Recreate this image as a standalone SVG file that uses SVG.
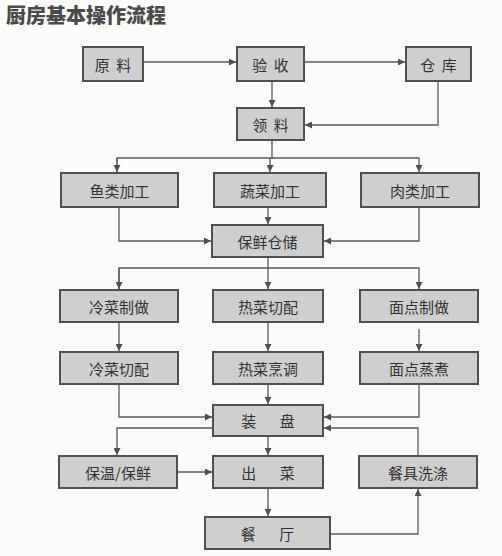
<svg xmlns="http://www.w3.org/2000/svg" width="502" height="556" viewBox="0 0 502 556">
<style>
.bg{fill:#fbfbfa}
.box{fill:#cfcfcf;stroke:#505050;stroke-width:2}
.t{font-family:"Noto Sans CJK SC","Liberation Sans",sans-serif;font-size:15px;fill:#333;text-anchor:middle;dominant-baseline:central}
.title{font-family:"Noto Sans CJK SC","Liberation Sans",sans-serif;font-size:20px;font-weight:900;fill:#4a4a4a}
.c{fill:none;stroke:#5a5a5a;stroke-width:1.3}
</style>
<defs>
<marker id="ah" viewBox="0 0 10 10" refX="10" refY="5" markerWidth="8" markerHeight="7" markerUnits="userSpaceOnUse" orient="auto">
<path d="M0,0 L10,5 L0,10 z" fill="#505050"/>
</marker>
</defs>
<rect class="bg" x="0" y="0" width="502" height="556"/>
<text class="title" x="6" y="23">厨房基本操作流程</text>
<g id="connectors">
<path class="c" d="M143,62 H236" marker-end="url(#ah)"/>
<path class="c" d="M304,62 H405" marker-end="url(#ah)"/>
<path class="c" d="M272,81 V107" marker-end="url(#ah)"/>
<path class="c" d="M438,81 V125 H305" marker-end="url(#ah)"/>
<path class="c" d="M272,140 V158"/>
<path class="c" d="M117,172 V158 H419 V172" marker-end="url(#ah)"/>
<path class="c" d="M117,158 V172" marker-end="url(#ah)"/>
<path class="c" d="M270,158 V172" marker-end="url(#ah)"/>
<path class="c" d="M268,207 V224" marker-end="url(#ah)"/>
<path class="c" d="M119,207 V241 H211" marker-end="url(#ah)"/>
<path class="c" d="M419,207 V241 H324" marker-end="url(#ah)"/>
<path class="c" d="M268,257 V268"/>
<path class="c" d="M119,289 V268 H419 V289" marker-end="url(#ah)"/>
<path class="c" d="M119,268 V289" marker-end="url(#ah)"/>
<path class="c" d="M268,268 V289" marker-end="url(#ah)"/>
<path class="c" d="M119,322 V351" marker-end="url(#ah)"/>
<path class="c" d="M268,322 V351" marker-end="url(#ah)"/>
<path class="c" d="M419,329 V351" marker-end="url(#ah)"/>
<path class="c" d="M268,384 V404" marker-end="url(#ah)"/>
<path class="c" d="M119,384 V417 H212" marker-end="url(#ah)"/>
<path class="c" d="M419,384 V417 H324" marker-end="url(#ah)"/>
<path class="c" d="M213,428 H117 V455" marker-end="url(#ah)"/>
<path class="c" d="M268,436 V455" marker-end="url(#ah)"/>
<path class="c" d="M177,472 H212" marker-end="url(#ah)"/>
<path class="c" d="M268,488 V516" marker-end="url(#ah)"/>
<path class="c" d="M330,534 H418 V489" marker-end="url(#ah)"/>
<path class="c" d="M418,456 V428 H324" marker-end="url(#ah)"/>
</g>
<g id="n-yuanliao"><rect class="box" x="83" y="47" width="60" height="34"/><text class="t" x="113" y="64" xml:space="preserve">原  料</text></g>
<g id="n-yanshou"><rect class="box" x="237" y="47" width="67" height="34"/><text class="t" x="270.5" y="64" xml:space="preserve">验  收</text></g>
<g id="n-cangku"><rect class="box" x="406" y="47" width="65" height="34"/><text class="t" x="438.5" y="64" xml:space="preserve">仓  库</text></g>
<g id="n-lingliao"><rect class="box" x="237" y="108" width="67" height="32"/><text class="t" x="270.5" y="124" xml:space="preserve">领  料</text></g>
<g id="n-yulei"><rect class="box" x="61" y="173" width="117" height="34"/><text class="t" x="119.5" y="190">鱼类加工</text></g>
<g id="n-shucai"><rect class="box" x="214" y="173" width="112" height="34"/><text class="t" x="270" y="190">蔬菜加工</text></g>
<g id="n-roulei"><rect class="box" x="361" y="173" width="118" height="34"/><text class="t" x="420" y="190">肉类加工</text></g>
<g id="n-baoxian"><rect class="box" x="212" y="225" width="111" height="32"/><text class="t" x="267.5" y="241">保鲜仓储</text></g>
<g id="n-lengcai1"><rect class="box" x="60" y="290" width="118" height="32"/><text class="t" x="119" y="306">冷菜制做</text></g>
<g id="n-recai1"><rect class="box" x="213" y="290" width="110" height="32"/><text class="t" x="268" y="306">热菜切配</text></g>
<g id="n-miandian1"><rect class="box" x="360" y="290" width="118" height="32"/><text class="t" x="419" y="306">面点制做</text></g>
<g id="n-lengcai2"><rect class="box" x="60" y="352" width="118" height="32"/><text class="t" x="119" y="368">冷菜切配</text></g>
<g id="n-recai2"><rect class="box" x="213" y="352" width="110" height="32"/><text class="t" x="268" y="368">热菜烹调</text></g>
<g id="n-miandian2"><rect class="box" x="360" y="352" width="118" height="32"/><text class="t" x="419" y="368">面点蒸煮</text></g>
<g id="n-zhuangpan"><rect class="box" x="213" y="405" width="110" height="31"/><text class="t" x="268" y="420.5" xml:space="preserve">装       盘</text></g>
<g id="n-baowen"><rect class="box" x="59" y="456" width="118" height="32"/><text class="t" x="118" y="472">保温/保鲜</text></g>
<g id="n-chucai"><rect class="box" x="213" y="456" width="110" height="32"/><text class="t" x="268" y="472" xml:space="preserve">出       菜</text></g>
<g id="n-canju"><rect class="box" x="359" y="456" width="118" height="32"/><text class="t" x="418" y="472">餐具洗涤</text></g>
<g id="n-canting"><rect class="box" x="205" y="517" width="125" height="32"/><text class="t" x="267.5" y="533" xml:space="preserve">餐       厅</text></g>
</svg>
